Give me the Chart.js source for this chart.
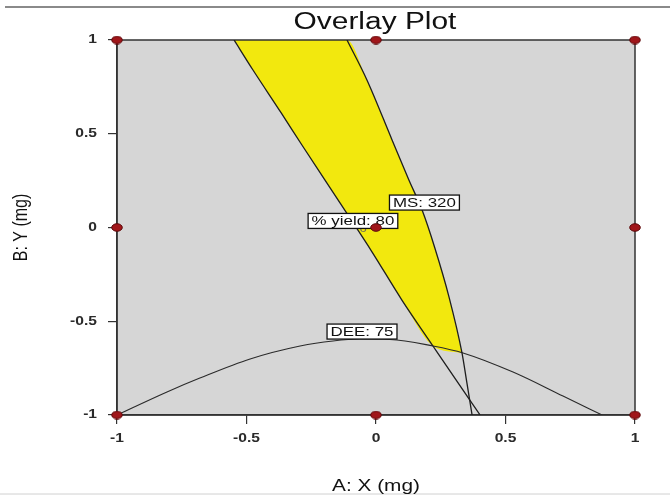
<!DOCTYPE html>
<html>
<head>
<meta charset="utf-8">
<script src="https://cdn.jsdelivr.net/npm/chart.js@4.4.1/dist/chart.umd.min.js"></script>
<style>
  body { margin: 0; background: #fff; }
  canvas { display: block; }
</style>
</head>
<body>
<canvas id="overlayChart" width="670" height="495"></canvas>
<script>
// axis ticks
const tickValues = [-1, -0.5, 0, 0.5, 1];
const tickLabels = ['-1', '-0.5', '0', '0.5', '1'];

// design points (red dots)
const designX = [-1, 0, 1, -1, 0, 1, -1, 0, 1];
const designY = [1, 1, 1, 0, 0, 0, -1, -1, -1];

// % yield: 80 contour
const yieldX = [-0.548, -0.475, -0.366, -0.286, -0.139, -0.015, 0.100, 0.220, 0.309, 0.402];
const yieldY = [1, 0.84, 0.611, 0.44, 0.131, -0.131, -0.387, -0.632, -0.813, -1];

// MS: 320 contour
const msX = [-0.112, -0.035, 0.062, 0.127, 0.178, 0.226, 0.282, 0.332, 0.351, 0.371];
const msY = [1, 0.787, 0.467, 0.253, 0.093, -0.104, -0.371, -0.669, -0.829, -1];

// DEE: 75 contour
const deeX = [-1, -0.807, -0.680, -0.486, -0.293, -0.166, -0.062, 0.054, 0.220, 0.336, 0.529, 0.722, 0.873];
const deeY = [-1, -0.877, -0.803, -0.701, -0.632, -0.605, -0.595, -0.597, -0.632, -0.669, -0.771, -0.899, -1];

// yellow region edges
const regionTopX = [-0.548, -0.112, -0.035, 0.062, 0.127, 0.178, 0.226, 0.282, 0.332];
const regionTopY = [1, 1, 0.787, 0.467, 0.253, 0.093, -0.104, -0.371, -0.669];
const regionBottomX = [-0.548, -0.475, -0.366, -0.286, -0.139, -0.015, 0.100, 0.220, 0.332];
const regionBottomY = [1, 0.84, 0.611, 0.44, 0.131, -0.131, -0.387, -0.632, -0.669];

// contour labels
const labelTexts = ['% yield: 80', 'MS: 320', 'DEE: 75'];
const labelX = [-0.089, 0.187, -0.054];
const labelY = [0.035, 0.133, -0.555];

const FONT = 'Liberation Sans, Arial, sans-serif';
const SX = 1.3; // the original picture is stretched sideways

function pts(xs, ys) {
    return xs.map((x, i) => ({ x: x, y: ys[i] }));
}

function wideText(ctx, text, x, y, font, align, color, rotate) {
    ctx.save();
    ctx.translate(x, y);
    ctx.scale(SX, 1);
    if (rotate) ctx.rotate(-Math.PI / 2);
    ctx.font = font;
    ctx.fillStyle = color;
    ctx.textAlign = align;
    ctx.textBaseline = 'middle';
    ctx.fillText(text, 0, 0);
    ctx.restore();
}

// elliptical red marker
const dot = document.createElement('canvas');
dot.width = 12;
dot.height = 9;
(function() {
    const c = dot.getContext('2d');
    c.beginPath();
    c.ellipse(6, 4.5, 5.3, 3.8, 0, 0, Math.PI * 2);
    c.fillStyle = '#a0161a';
    c.fill();
    c.strokeStyle = '#5c0a0c';
    c.lineWidth = 1;
    c.stroke();
})();

const overlayPlugin = {
    id: 'overlay',
    beforeDraw(chart) {
        const ctx = chart.ctx;
        const a = chart.chartArea;
        ctx.save();
        ctx.strokeStyle = '#8a8a8a';
        ctx.lineWidth = 2;
        ctx.beginPath();
        ctx.moveTo(5, 7);
        ctx.lineTo(670, 7);
        ctx.stroke();
        ctx.strokeStyle = '#d0d0d0';
        ctx.lineWidth = 1;
        ctx.beginPath();
        ctx.moveTo(0, 494);
        ctx.lineTo(670, 494);
        ctx.stroke();
        ctx.fillStyle = '#d6d6d6';
        ctx.fillRect(a.left, a.top, a.right - a.left, a.bottom - a.top);
        ctx.restore();
    },
    afterDatasetDraw(chart, args) {
        const ctx = chart.ctx;
        const a = chart.chartArea;
        const xs = chart.scales.x;
        const ys = chart.scales.y;
        if (args.index === 4) {
            // frame round the plot, under the curves and dots
            ctx.save();
            ctx.strokeStyle = '#333';
            ctx.lineWidth = 1.5;
            ctx.strokeRect(a.left, a.top, a.right - a.left, a.bottom - a.top);
            ctx.restore();
        }
        if (args.index === 1) {
            wideText(ctx, '6', xs.getPixelForValue(-0.05), ys.getPixelForValue(-0.01),
                '10px ' + FONT, 'center', '#6b6b5a');
            ctx.save();
            ctx.font = '13px ' + FONT;
            labelTexts.forEach((t, i) => {
                const px = xs.getPixelForValue(labelX[i]);
                const py = ys.getPixelForValue(labelY[i]);
                const w = ctx.measureText(t).width * SX + 7;
                const h = 15;
                ctx.fillStyle = '#fff';
                ctx.fillRect(px - w / 2, py - h / 2, w, h);
                ctx.strokeStyle = '#111';
                ctx.lineWidth = 1.3;
                ctx.strokeRect(px - w / 2, py - h / 2, w, h);
                wideText(ctx, t, px, py + 0.5, '13px ' + FONT, 'center', '#111');
            });
            ctx.restore();
        }
    },
    afterDraw(chart) {
        const ctx = chart.ctx;
        const a = chart.chartArea;
        const xs = chart.scales.x;
        const ys = chart.scales.y;
        const midX = (a.left + a.right) / 2;
        tickValues.forEach((v, i) => {
            wideText(ctx, tickLabels[i], xs.getPixelForValue(v), a.bottom + 24,
                'bold 12px ' + FONT, 'center', '#2a2a2a');
            wideText(ctx, tickLabels[i], a.left - 20, ys.getPixelForValue(v),
                'bold 12px ' + FONT, 'right', '#2a2a2a');
        });
        wideText(ctx, 'Overlay Plot', midX - 1, a.top - 17, '23px ' + FONT, 'center', '#111');
        wideText(ctx, 'A: X (mg)', midX, a.bottom + 72, '16px ' + FONT, 'center', '#111');
        wideText(ctx, 'B: Y (mg)', 21, (a.top + a.bottom) / 2, '16px ' + FONT, 'center', '#111', true);
    }
};

const axisOpts = {
    type: 'linear',
    min: -1,
    max: 1,
    ticks: { display: false, stepSize: 0.5 },
    grid: { drawOnChartArea: false, drawTicks: true, tickLength: 9, color: '#333', lineWidth: 1.2 },
    border: { display: true, color: '#333', width: 1.5 }
};

const curveStyle = {
    showLine: true,
    pointRadius: 0,
    cubicInterpolationMode: 'monotone',
    fill: false
};

const ctx = document.getElementById('overlayChart').getContext('2d');
const chart = new Chart(ctx, {
    type: 'scatter',
    data: {
        datasets: [
            {
                label: 'design points',
                data: pts(designX, designY),
                pointStyle: dot,
                pointRadius: 5,
                showLine: false,
                clip: false
            },
            Object.assign({}, curveStyle, {
                label: '% yield: 80',
                data: pts(yieldX, yieldY),
                borderColor: '#1e1e1e',
                borderWidth: 1.3
            }),
            Object.assign({}, curveStyle, {
                label: 'MS: 320',
                data: pts(msX, msY),
                borderColor: '#1e1e1e',
                borderWidth: 1.3
            }),
            Object.assign({}, curveStyle, {
                label: 'DEE: 75',
                data: pts(deeX, deeY),
                borderColor: '#2a2a2a',
                borderWidth: 1.1
            }),
            Object.assign({}, curveStyle, {
                label: 'region top',
                data: pts(regionTopX, regionTopY),
                borderWidth: 0,
                borderColor: 'rgba(0,0,0,0)',
                backgroundColor: '#f2e80e',
                fill: '+1'
            }),
            Object.assign({}, curveStyle, {
                label: 'region bottom',
                data: pts(regionBottomX, regionBottomY),
                borderWidth: 0,
                borderColor: 'rgba(0,0,0,0)'
            })
        ]
    },
    options: {
        responsive: false,
        animation: false,
        layout: { padding: { top: 40, right: 35, left: 0, bottom: 0 } },
        plugins: {
            legend: { display: false },
            tooltip: { enabled: false },
            title: { display: false }
        },
        scales: {
            x: Object.assign({}, axisOpts, {
                position: 'bottom',
                afterFit: function(scale) { scale.height = 80; }
            }),
            y: Object.assign({}, axisOpts, {
                position: 'left',
                afterFit: function(scale) { scale.width = 117; }
            })
        }
    },
    plugins: [overlayPlugin]
});
</script>
</body>
</html>
